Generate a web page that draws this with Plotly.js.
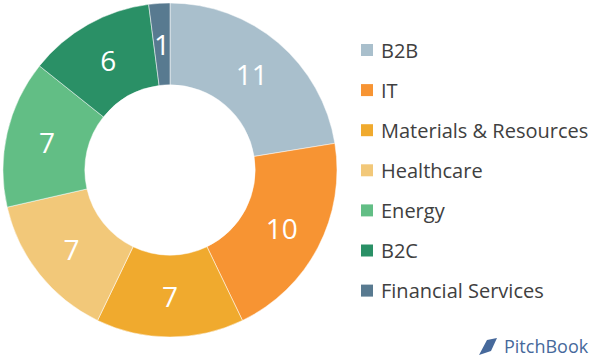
<!DOCTYPE html>
<html><head><meta charset="utf-8">
<script src="https://cdn.plot.ly/plotly-3.0.1.min.js"></script>
<style>html,body{margin:0;padding:0;background:#fff}#chart{width:594px;height:358px}</style>
</head><body><div id="chart"></div>
<script>
const categories = ["B2B","IT","Materials & Resources","Healthcare","Energy","B2C","Financial Services"];
const values = [11,10,7,7,7,6,1];
const colors = ["#A9BFCC","#F79433","#F0AA2E","#F2C879","#62BE85","#2A9066","#587A90"];

const FONT = "Open Sans, sans-serif";
const W = 594, H = 358;
const dom = {x: [3/W, 337/W], y: [21/H, 355/H]};
const total = values.reduce((a, b) => a + b, 0);
// slices too narrow for Plotly's inside placement get their value as an annotation at mid-ring
const narrow = values.map(v => v / total < 0.05);
const trace = {
  type: "pie", labels: categories, values: values, sort: false,
  direction: "clockwise", rotation: 0, hole: 0.51,
  marker: {colors: colors, line: {color: "#ffffff", width: 0.5}},
  texttemplate: narrow.map(n => n ? "" : "%{value}"),
  textposition: "inside", insidetextorientation: "horizontal",
  textfont: {family: FONT, size: 28, color: "#ffffff"},
  domain: dom, showlegend: false, hoverinfo: "label+value"
};

const annotations = [];
const shapes = [];
// mid-ring labels for narrow slices
const cx = (dom.x[0] + dom.x[1]) / 2 * W, cy = H - (dom.y[0] + dom.y[1]) / 2 * H;
const R = Math.min((dom.x[1] - dom.x[0]) * W, (dom.y[1] - dom.y[0]) * H) / 2;
const rMid = R * (1 + trace.hole) / 2;
let cum = 0;
values.forEach((v, i) => {
  const a = (cum + v / 2) / total * 2 * Math.PI;
  cum += v;
  if (!narrow[i]) return;
  annotations.push({xref: "paper", yref: "paper",
    x: (cx + rMid * Math.sin(a)) / W, y: 1 - (cy - rMid * Math.cos(a)) / H,
    xanchor: "center", yanchor: "middle", text: String(v), showarrow: false,
    font: {family: FONT, size: 28, color: "#ffffff"}});
});

const legTop = 50, legGap = 40.1;
categories.forEach((c, i) => {
  const yPx = legTop + i * legGap;
  shapes.push({type: "rect", xref: "paper", yref: "paper",
    x0: 361/W, x1: 373/W, y0: 1 - (yPx + 6)/H, y1: 1 - (yPx - 6)/H,
    fillcolor: colors[i], line: {width: 0}});
  annotations.push({xref: "paper", yref: "paper", x: 379/W, y: 1 - yPx/H,
    xanchor: "left", yanchor: "middle", text: c, showarrow: false,
    font: {family: FONT, size: 20, color: "#404040"}});
});
annotations.push({xref: "paper", yref: "paper", x: 591/W, y: 1 - 346/H,
  xanchor: "right", yanchor: "middle", text: "PitchBook", showarrow: false,
  font: {family: FONT, size: 18, color: "#46699B"}});
shapes.push({type: "path", xref: "paper", yref: "paper",
  path: `M ${479/W} ${1-355/H} L ${487/W} ${1-340/H} L ${497/W} ${1-338/H} L ${491/W} ${1-351/H} Z`,
  fillcolor: "#46699B", line: {width: 0}});

const layout = {
  width: W, height: H, margin: {l: 0, r: 0, t: 0, b: 0},
  paper_bgcolor: "#ffffff", plot_bgcolor: "#ffffff",
  annotations: annotations, shapes: shapes, showlegend: false
};
Plotly.newPlot("chart", [trace], layout, {displayModeBar: false, staticPlot: true});
</script></body></html>
